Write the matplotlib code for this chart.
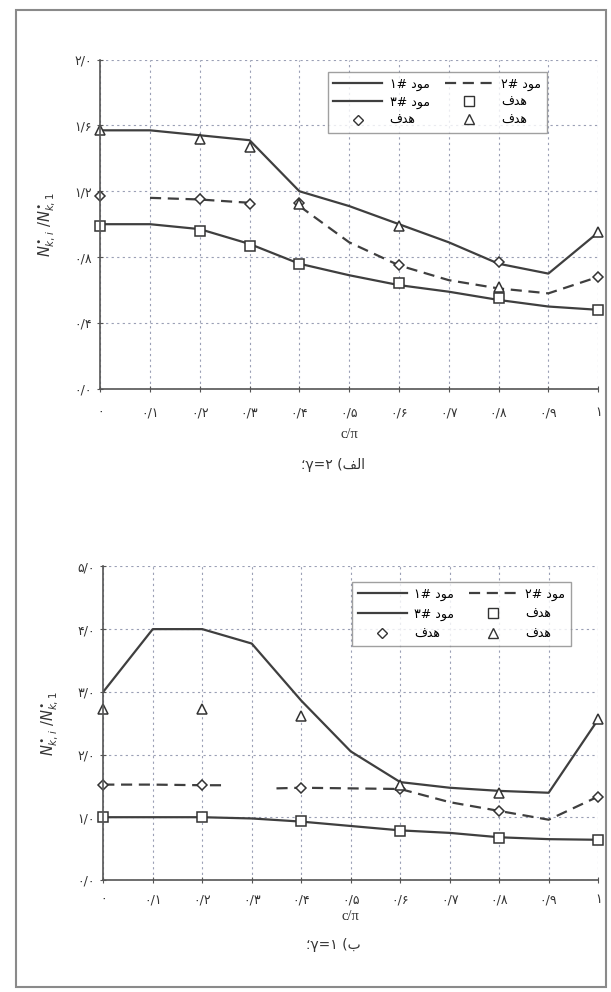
import matplotlib
matplotlib.use('Agg')
import matplotlib.pyplot as plt
from matplotlib.lines import Line2D
from matplotlib.patches import Rectangle

plt.rcParams['font.family'] = ['DejaVu Sans']

# persian words already shaped (presentation forms, visual order)
MOD = '\uFEA9\uFEEE\uFEE3'      # مود
HADAF = '\uFED1\uFEAA\uFEEB'    # هدف
ALEF = '\uFED2\uFEDF\uFE8D'     # الف
BE = '\uFE8F'                   # ب

fa_digits = '۰۱۲۳۴۵۶۷۸۹'


def fa(s):
    return ''.join(fa_digits[int(ch)] if ch.isdigit() else ch for ch in s)


x = [0, 0.1, 0.2, 0.3, 0.4, 0.5, 0.6, 0.7, 0.8, 0.9, 1.0]
x_labels = ['0', '0/1', '0/2', '0/3', '0/4', '0/5', '0/6', '0/7', '0/8', '0/9', '1']

# (الف) gamma = 2
mode1_a = [1.00, 1.00, 0.97, 0.88, 0.76, 0.69, 0.63, 0.59, 0.54, 0.50, 0.48]
mode3_a = [1.57, 1.57, 1.54, 1.51, 1.20, 1.11, 1.00, 0.89, 0.76, 0.70, 0.95]
mode2_a_x1 = [0.1, 0.2, 0.3]
mode2_a_y1 = [1.16, 1.15, 1.13]
mode2_a_x2 = [0.4, 0.5, 0.6, 0.7, 0.8, 0.9, 1.0]
mode2_a_y2 = [1.11, 0.89, 0.75, 0.66, 0.61, 0.58, 0.68]
tx_a = [0, 0.2, 0.3, 0.4, 0.6, 0.8, 1.0]
sq_a = [0.99, 0.96, 0.87, 0.76, 0.64, 0.55, 0.48]
di_a = [1.17, 1.15, 1.12, 1.13, 0.75, 0.77, 0.68]
tri_a = [1.57, 1.52, 1.47, 1.12, 0.99, 0.62, 0.95]
yt_a = [0, 0.4, 0.8, 1.2, 1.6, 2.0]
yl_a = ['0/0', '0/4', '0/8', '1/2', '1/6', '2/0']

# (ب) gamma = 1
mode1_b = [1.00, 1.00, 1.00, 0.98, 0.93, 0.86, 0.79, 0.75, 0.68, 0.65, 0.64]
mode3_b = [3.00, 4.00, 4.00, 3.77, 2.86, 2.05, 1.56, 1.47, 1.42, 1.39, 2.56]
mode2_b_x1 = [0, 0.1, 0.2, 0.25]
mode2_b_y1 = [1.52, 1.52, 1.51, 1.51]
mode2_b_x2 = [0.35, 0.4, 0.5, 0.6, 0.7, 0.8, 0.9, 1.0]
mode2_b_y2 = [1.46, 1.47, 1.46, 1.45, 1.24, 1.10, 0.96, 1.33]
tx_b = [0, 0.2, 0.4, 0.6, 0.8, 1.0]
sq_b = [1.00, 1.00, 0.94, 0.78, 0.67, 0.63]
di_b = [1.52, 1.52, 1.47, 1.45, 1.10, 1.33]
tri_b = [2.72, 2.72, 2.62, 1.52, 1.38, 2.56]
yt_b = [0, 1, 2, 3, 4, 5]
yl_b = ['0/0', '1/0', '2/0', '3/0', '4/0', '5/0']

LINE = '#3f3f3f'
GRID = '#9a9fb5'

fig = plt.figure(figsize=(6.11, 9.92), dpi=100)
fig.patches.append(Rectangle((0.026, 0.005), 0.965, 0.985, transform=fig.transFigure,
                             fill=False, edgecolor='#8a8a8a', lw=1.5))


def draw(ax, m1, m3, d1x, d1y, d2x, d2y, tx, sq, di, tri, yt, yl, legend_loc, xpad, row_sp):
    ax.plot(x, m1, color=LINE, lw=1.6)
    ax.plot(x, m3, color=LINE, lw=1.6)
    ax.plot(d1x, d1y, color=LINE, lw=1.6, ls=(0, (5, 3)))
    ax.plot(d2x, d2y, color=LINE, lw=1.6, ls=(0, (5, 3)))
    kw = dict(ls='none', mfc='white', mec='#333333', mew=1.1, clip_on=False)
    ax.plot(tx, sq, marker='s', ms=6.5, **kw)
    ax.plot(tx, di, marker='D', ms=5, **kw)
    ax.plot(tx, tri, marker='^', ms=6.5, **kw)

    ax.set_xlim(0, 1.0)
    ax.set_ylim(yt[0], yt[-1])
    ax.set_xticks(x)
    ax.set_xticklabels([fa(s) for s in x_labels], fontsize=9)
    ax.set_yticks(yt)
    ax.set_yticklabels([fa(s) for s in yl], fontsize=9)
    ax.tick_params(axis='both', direction='inout', length=5, width=0.8, colors='#555555',
                   labelcolor='#333333')
    ax.tick_params(axis='x', pad=xpad)
    ax.grid(True, ls=(0, (2, 3)), color=GRID, lw=0.8)
    for s in ['top', 'right']:
        ax.spines[s].set_visible(False)
    for s in ['left', 'bottom']:
        ax.spines[s].set_color('#555555')
        ax.spines[s].set_linewidth(1.2)
    ax.set_xlabel('c/π', fontsize=10.5, family='Liberation Serif', color='#333333',
                  labelpad=xpad - 4)
    ax.set_ylabel('$N^{\\bullet}_{k,i}\\ /N^{\\bullet}_{k,1}$', fontsize=10.5, color='#333333',
                  labelpad=12)

    handles = [
        Line2D([], [], color=LINE, lw=1.6),
        Line2D([], [], color=LINE, lw=1.6),
        Line2D([], [], ls='none', marker='D', ms=5, mfc='white', mec='#333333'),
        Line2D([], [], color=LINE, lw=1.6, ls=(0, (5, 3))),
        Line2D([], [], ls='none', marker='s', ms=6.5, mfc='white', mec='#333333'),
        Line2D([], [], ls='none', marker='^', ms=6.5, mfc='white', mec='#333333'),
    ]
    labels = [fa('1# ') + MOD, fa('3# ') + MOD, HADAF,
              fa('2# ') + MOD, HADAF, HADAF]
    leg = ax.legend(handles, labels, ncol=2, loc='upper left', bbox_to_anchor=legend_loc,
                    fontsize=9, frameon=True, fancybox=False, edgecolor='#888888',
                    handlelength=3.9, columnspacing=1.2, labelspacing=row_sp,
                    borderpad=0.45, handletextpad=0.6, borderaxespad=0)
    leg.get_frame().set_linewidth(1.0)


ax1 = fig.add_axes([0.164, 0.608, 0.815, 0.332])
draw(ax1, mode1_a, mode3_a, mode2_a_x1, mode2_a_y1, mode2_a_x2, mode2_a_y2,
     tx_a, sq_a, di_a, tri_a, yt_a, yl_a, (0.457, 0.962), 10, 0.4)

ax2 = fig.add_axes([0.169, 0.113, 0.810, 0.316])
draw(ax2, mode1_b, mode3_b, mode2_b_x1, mode2_b_y1, mode2_b_x2, mode2_b_y2,
     tx_b, sq_b, di_b, tri_b, yt_b, yl_b, (0.503, 0.95), 7, 0.55)

fig.text(0.545, 0.531, '؛γ=' + fa('2') + ' (' + ALEF, ha='center', va='center',
         fontsize=10, color='#333333')
fig.text(0.545, 0.047, '؛γ=' + fa('1') + ' (' + BE, ha='center', va='center',
         fontsize=10, color='#333333')

fig.savefig('out.png', dpi=100)
